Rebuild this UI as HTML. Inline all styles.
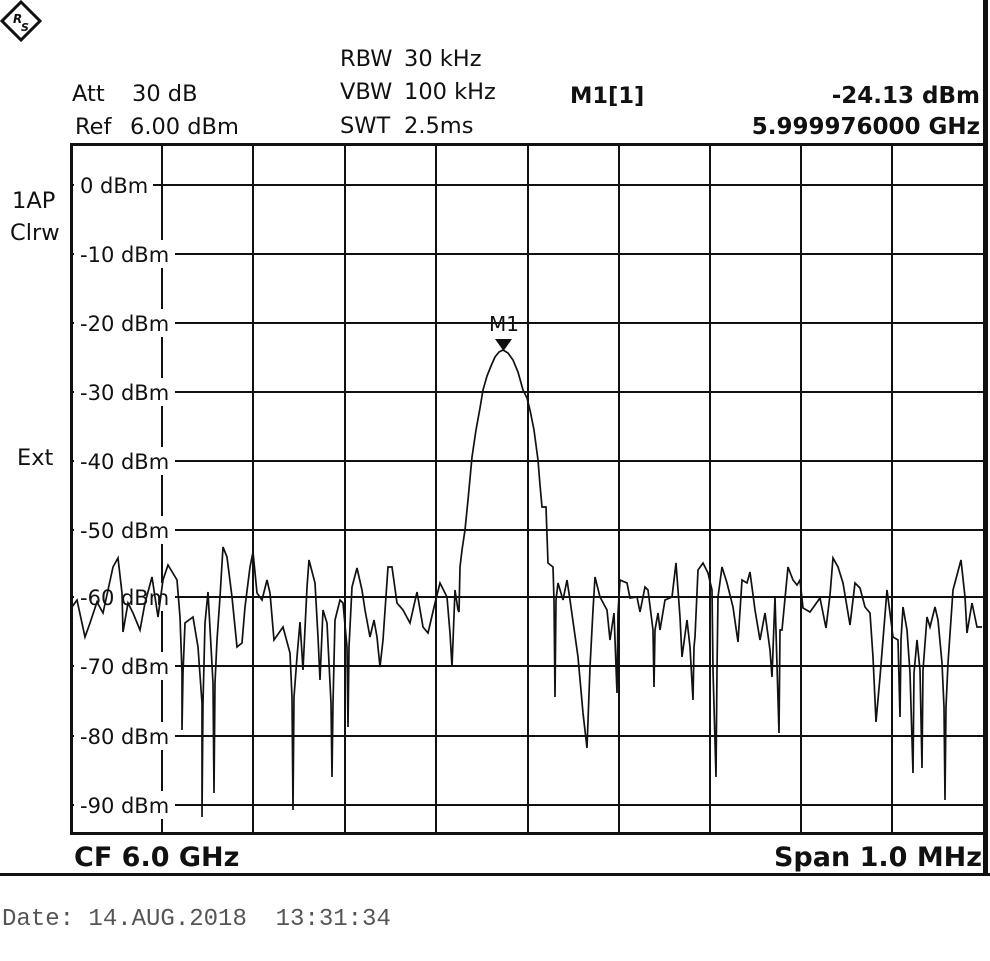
<!DOCTYPE html>
<html><head><meta charset="utf-8"><style>
html,body{margin:0;padding:0;background:#fff;}
svg{display:block;}
text{font-family:"DejaVu Sans","Liberation Sans",sans-serif;fill:#111;}
.b{font-weight:bold;}
</style></head><body>
<svg width="990" height="961" viewBox="0 0 990 961" xmlns="http://www.w3.org/2000/svg">
<g transform="translate(21,21)">
<polygon points="0,-19 19,0 0,19 -19,0" fill="none" stroke="#111" stroke-width="3"/>
<text x="-8" y="2" font-size="12" font-style="italic" font-weight="bold">R</text>
<text x="0" y="10" font-size="11" font-style="italic" font-weight="bold">S</text>
</g>
<g font-size="22.5">
<text x="72" y="101">Att</text><text x="132" y="101">30 dB</text>
<text x="75" y="134">Ref</text><text x="130" y="134">6.00 dBm</text>
<text x="340" y="66">RBW</text><text x="404" y="66">30 kHz</text>
<text x="340" y="99">VBW</text><text x="404" y="99">100 kHz</text>
<text x="340" y="133">SWT</text><text x="404" y="133">2.5ms</text>
<text class="b" x="570" y="103">M1[1]</text>
<text class="b" x="980" y="103" text-anchor="end" font-size="23">-24.13 dBm</text>
<text class="b" x="980" y="134" text-anchor="end" font-size="23">5.999976000 GHz</text>
<text x="12" y="208">1AP</text>
<text x="10" y="240">Clrw</text>
<text x="17" y="465">Ext</text>
</g>
<g stroke="#111" stroke-width="2">
<line x1="253" y1="144" x2="253" y2="834"/><line x1="345" y1="144" x2="345" y2="834"/>
<line x1="436" y1="144" x2="436" y2="834"/><line x1="528" y1="144" x2="528" y2="834"/>
<line x1="619" y1="144" x2="619" y2="834"/><line x1="710" y1="144" x2="710" y2="834"/>
<line x1="801" y1="144" x2="801" y2="834"/><line x1="892" y1="144" x2="892" y2="834"/>
<line x1="162" y1="144" x2="162" y2="834"/>
<line x1="72" y1="185" x2="984" y2="185"/><line x1="72" y1="254" x2="984" y2="254"/>
<line x1="72" y1="323" x2="984" y2="323"/><line x1="72" y1="392" x2="984" y2="392"/>
<line x1="72" y1="461" x2="984" y2="461"/><line x1="72" y1="530" x2="984" y2="530"/>
<line x1="72" y1="597" x2="984" y2="597"/><line x1="72" y1="666" x2="984" y2="666"/>
<line x1="72" y1="736" x2="984" y2="736"/><line x1="72" y1="805" x2="984" y2="805"/>
</g>
<g font-size="21">
<rect x="74" y="171" width="79" height="28" fill="#fff"/><text x="80" y="193">0 dBm</text>
<rect x="74" y="240" width="101" height="28" fill="#fff"/><text x="80" y="262">-10 dBm</text>
<rect x="74" y="309" width="101" height="28" fill="#fff"/><text x="80" y="331">-20 dBm</text>
<rect x="74" y="378" width="101" height="28" fill="#fff"/><text x="80" y="400">-30 dBm</text>
<rect x="74" y="447" width="101" height="28" fill="#fff"/><text x="80" y="469">-40 dBm</text>
<rect x="74" y="516" width="101" height="28" fill="#fff"/><text x="80" y="538">-50 dBm</text>
<rect x="74" y="583" width="101" height="28" fill="#fff"/><text x="80" y="605">-60 dBm</text>
<rect x="74" y="652" width="101" height="28" fill="#fff"/><text x="80" y="674">-70 dBm</text>
<rect x="74" y="722" width="101" height="28" fill="#fff"/><text x="80" y="744">-80 dBm</text>
<rect x="74" y="791" width="101" height="28" fill="#fff"/><text x="80" y="813">-90 dBm</text>
</g>
<polyline fill="none" stroke="#111" stroke-width="1.7" stroke-linejoin="miter" points="
72,607 77,600 85,637 90,623 97,602 103,613 113,567 118,558 122,593 123,632 128,603 133,613 140,630 145,603 152,577 158,617 163,580 168,565 177,580 180,617 182,673 182,730 183,673 185,623 193,617 198,647 202,703 202,817 203,703 205,623 208,592 213,683 214,793 215,683 217,640 220,597 223,547 227,557 232,597 237,647 242,643 245,607 250,567 253,552 257,593 262,600 267,580 270,593 274,640 283,627 290,653 292,697 293,810 294,697 297,657 300,622 303,670 307,587 309,560 315,583 318,637 320,680 323,610 327,623 331,703 332,777 333,703 335,620 340,600 343,603 347,647 348,727 349,647 352,587 357,568 362,590 365,610 370,637 374,620 377,637 380,667 383,640 388,567 392,567 397,603 403,610 410,623 417,592 423,627 428,633 435,603 440,583 447,597 450,633 452,667 455,590 458,610 459,612 460,567 462,550 465,530 468,500 472,457 476,430 480,408 483,390 487,376 491,366 495,357 499,352 503,350 508,353 513,360 518,372 523,390 527,398 530,410 534,430 538,460 540,485 542,507 546,507 548,563 553,567 554,600 555,697 556,600 558,583 563,600 567,580 570,600 578,657 583,713 587,748 590,667 593,610 595,577 600,597 607,610 610,640 614,613 617,693 618,613 620,580 627,583 630,598 637,597 640,612 645,587 648,590 653,630 654,687 655,630 658,613 660,630 665,600 672,597 676,563 680,617 682,657 687,620 690,647 693,700 694,647 695,637 698,570 703,563 708,573 712,590 713,670 716,777 717,670 718,597 722,567 727,583 733,607 738,642 742,580 747,583 750,572 755,610 760,640 765,613 770,650 772,677 773,650 775,597 779,733 780,630 782,630 788,567 793,580 797,585 800,580 803,608 810,612 820,598 826,628 830,595 833,558 838,567 843,583 848,613 850,625 855,583 860,588 865,607 870,613 873,657 876,722 880,677 887,590 890,613 893,637 898,640 900,717 901,640 903,607 907,630 910,673 913,773 914,673 917,640 920,670 922,768 923,670 927,617 930,627 935,607 938,620 942,663 944,707 945,800 946,707 948,663 953,590 961,560 965,597 967,633 972,603 977,627 982,627"/>
<polygon points="495,339 512,339 503.5,351" fill="#111"/>
<text x="504" y="331" font-size="20" text-anchor="middle">M1</text>
<rect x="71.5" y="144.5" width="913" height="689" fill="none" stroke="#111" stroke-width="3"/>
<rect x="983" y="0" width="5" height="876" fill="#111"/>
<rect x="0" y="873" width="990" height="3" fill="#111"/>
<text class="b" x="74" y="866" font-size="27">CF 6.0 GHz</text>
<text class="b" x="982" y="866" font-size="27" text-anchor="end">Span 1.0 MHz</text>
<text x="2" y="925" font-size="24" xml:space="preserve" style="font-family:'Liberation Mono',monospace;fill:#555">Date: 14.AUG.2018  13:31:34</text>
</svg>
</body></html>
